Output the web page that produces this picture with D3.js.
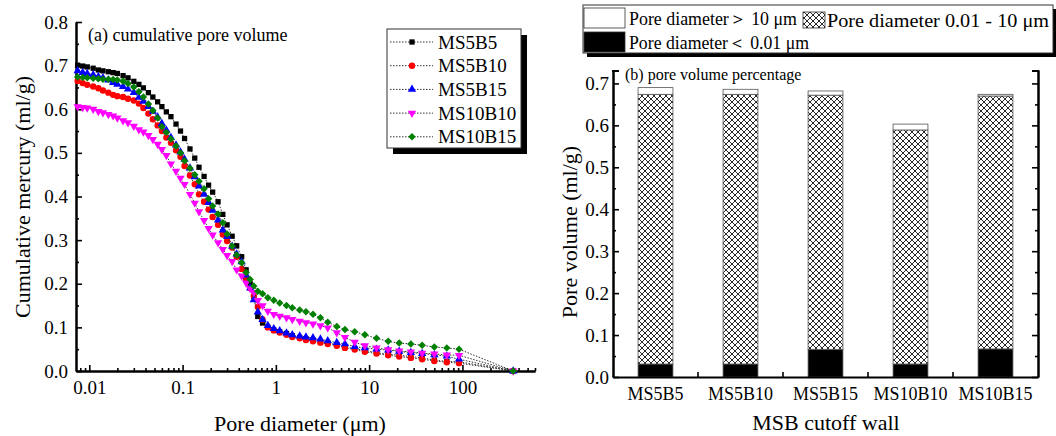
<!DOCTYPE html>
<html>
<head>
<meta charset="utf-8">
<script src="https://cdn.jsdelivr.net/npm/d3@7"></script>
<style>
body{margin:0;background:#fff}
svg text{font-family:"Liberation Serif","Times New Roman",serif;fill:#000}
.ax .domain{stroke:#000;stroke-width:2}
.ax line{stroke:#000;stroke-width:1.6}
</style>
</head>
<body>
<svg id="chart" width="1056" height="436"></svg>
<script>
// pore diameter (um) for the mercury intrusion points
const diam = [0.0075,0.0085,0.0095,0.011,0.0125,0.014,0.016,0.018,0.02,0.023,0.026,0.03,0.034,0.038,0.043,0.048,
  0.054,0.06,0.067,0.075,0.085,0.095,0.105,0.12,0.135,0.15,0.17,0.19,0.21,0.24,0.27,0.3,0.34,0.38,0.43,0.48,
  0.53,0.58,0.64,0.72,0.82,0.95,1.1,1.3,1.5,1.8,2.1,2.5,3,3.6,4.5,5.5,7,9,12,16,21,28,37,50,68,92,350];

// cumulative mercury (ml/g)
const ms5b5 = [0.701,0.699,0.697,0.694,0.690,0.688,0.686,0.684,0.682,0.677,0.672,0.664,0.657,0.649,0.638,0.628,
  0.617,0.606,0.594,0.583,0.566,0.550,0.533,0.509,0.488,0.467,0.446,0.426,0.410,0.388,0.359,0.335,0.309,0.287,0.262,0.232,
  0.200,0.170,0.125,0.110,0.100,0.094,0.090,0.086,0.081,0.077,0.074,0.071,0.068,0.064,0.060,0.055,0.051,0.047,0.042,0.039,
  0.036,0.033,0.030,0.025,0.022,0.021,0];
const ms5b10 = [0.665,0.660,0.656,0.652,0.648,0.643,0.638,0.633,0.630,0.628,0.624,0.620,0.613,0.603,0.590,0.577,
  0.563,0.550,0.535,0.523,0.506,0.491,0.470,0.448,0.428,0.405,0.388,0.370,0.353,0.335,0.313,0.298,0.283,0.262,0.234,0.210,
  0.190,0.172,0.147,0.118,0.100,0.093,0.088,0.083,0.078,0.075,0.071,0.068,0.065,0.062,0.058,0.053,0.049,0.044,0.040,0.036,
  0.033,0.030,0.027,0.023,0.020,0.018,0];
const ms5b15 = [0.688,0.684,0.682,0.679,0.675,0.672,0.667,0.661,0.657,0.652,0.646,0.638,0.627,0.618,0.606,0.595,
  0.582,0.567,0.552,0.535,0.518,0.502,0.485,0.465,0.445,0.424,0.405,0.386,0.368,0.346,0.323,0.308,0.286,0.268,0.250,0.220,
  0.190,0.163,0.135,0.118,0.104,0.097,0.092,0.087,0.083,0.080,0.078,0.076,0.073,0.069,0.065,0.062,0.056,0.053,0.050,0.048,
  0.045,0.042,0.040,0.037,0.034,0.027,0];
const ms10b10 = [0.606,0.604,0.603,0.600,0.595,0.592,0.588,0.585,0.580,0.574,0.569,0.561,0.553,0.548,0.540,0.531,
  0.520,0.508,0.494,0.475,0.458,0.442,0.428,0.405,0.385,0.365,0.345,0.327,0.312,0.294,0.279,0.265,0.251,0.232,0.218,0.202,
  0.189,0.180,0.162,0.150,0.137,0.130,0.126,0.122,0.118,0.114,0.111,0.108,0.104,0.099,0.088,0.077,0.066,0.058,0.053,0.049,
  0.046,0.044,0.041,0.039,0.037,0.036,0];
const ms10b15 = [0.674,0.673,0.672,0.671,0.670,0.669,0.669,0.668,0.667,0.664,0.659,0.651,0.640,0.628,0.612,0.597,
  0.580,0.560,0.547,0.532,0.516,0.500,0.482,0.465,0.450,0.435,0.418,0.395,0.378,0.360,0.340,0.314,0.286,0.266,0.248,0.226,
  0.210,0.195,0.183,0.177,0.168,0.162,0.156,0.150,0.145,0.140,0.136,0.130,0.122,0.112,0.102,0.095,0.090,0.083,0.075,0.068,
  0.064,0.062,0.059,0.055,0.053,0.050,0];

const seriesNames = ["MS5B5","MS5B10","MS5B15","MS10B10","MS10B15"];
const seriesValues = [ms5b5, ms5b10, ms5b15, ms10b10, ms10b15];
const seriesColors = ["#000000","#ff0000","#0000ff","#ff00ff","#008000"];

const xTicks = [0.01,0.1,1,10,100];
const yTicksA = [0,0.1,0.2,0.3,0.4,0.5,0.6,0.7,0.8];

// pore volume bars (ml/g)
const walls = ["MS5B5","MS5B10","MS5B15","MS10B10","MS10B15"];
const poreSmall = [0.031,0.031,0.066,0.031,0.067];   // < 0.01 um
const poreMid   = [0.643,0.643,0.606,0.558,0.603];   // 0.01 - 10 um
const poreLarge = [0.016,0.012,0.010,0.014,0.004];   // > 10 um
const yTicksB = [0,0.1,0.2,0.3,0.4,0.5,0.6,0.7];

const FONT = '"Liberation Serif","Times New Roman",serif';
const svg = d3.select("#chart");

// hatch pattern
const defs = svg.append("defs");
const pat = defs.append("pattern").attr("id","hatch").attr("patternUnits","userSpaceOnUse")
  .attr("width",6).attr("height",6);
pat.append("rect").attr("width",6).attr("height",6).attr("fill","#fff");
pat.append("path").attr("d","M0,0L6,6M6,0L0,6M-1,5L1,7M5,-1L7,1M-1,1L1,-1M5,7L7,5")
  .attr("stroke","#111").attr("stroke-width",0.9);

// ---------- (a) cumulative curves ----------
const x = d3.scaleLog().domain([0.0072, 600]).range([76, 535]);
const y = d3.scaleLinear().domain([0, 0.8]).range([371, 22]);
const A = svg.append("g");

const yMinorA = d3.range(0.05, 0.8, 0.1);
A.append("g").attr("class","ax").attr("transform","translate(76,0)")
  .call(d3.axisLeft(y).tickValues(yMinorA).tickSize(-3).tickSizeOuter(0).tickFormat(""));
A.append("g").attr("class","ax").attr("transform","translate(76,0)")
  .call(d3.axisLeft(y).tickValues(yTicksA).tickSize(-6).tickSizeOuter(0).tickPadding(8).tickFormat(d3.format(".1f")))
  .selectAll("text").style("font-size","19px");

const xMinor = x.ticks().filter(t => xTicks.indexOf(t) < 0);
A.append("g").attr("class","ax").attr("transform","translate(0,371)")
  .call(d3.axisBottom(x).tickValues(xMinor).tickSize(-3).tickSizeOuter(0).tickFormat(""));
A.append("g").attr("class","ax").attr("transform","translate(0,371)")
  .call(d3.axisBottom(x).tickValues(xTicks).tickSize(-6).tickSizeOuter(0).tickPadding(10).tickFormat(d => String(d)))
  .selectAll("text").style("font-size","19px");

A.append("text").attr("transform","translate(30,197) rotate(-90)").attr("text-anchor","middle")
  .style("font-size","22px").text("Cumulative mercury (ml/g)");
A.append("text").attr("x",300).attr("y",431).attr("text-anchor","middle")
  .style("font-size","22px").text("Pore diameter (\u03bcm)");
A.append("text").attr("x",88).attr("y",41).style("font-size","18px").text("(a) cumulative pore volume");

const symbols = [
  d3.symbol().type(d3.symbolSquare).size(28),
  d3.symbol().type(d3.symbolCircle).size(32),
  d3.symbol().type(d3.symbolTriangle).size(30),
  d3.symbol().type(d3.symbolTriangle).size(30),
  d3.symbol().type(d3.symbolSquare).size(28)
];
const rot = [0,0,0,180,45];

const line = d3.line().x(p => x(p[0])).y(p => y(p[1]));
seriesValues.forEach((vals, i) => {
  const pts = diam.map((d, k) => [d, vals[k]]);
  A.append("path").datum(pts).attr("d", line).attr("fill","none")
    .attr("stroke","#333").attr("stroke-width",1).attr("stroke-dasharray","1.5,1.5");
  A.append("g").selectAll("path").data(pts).join("path")
    .attr("d", symbols[i])
    .attr("transform", p => `translate(${x(p[0])},${y(p[1])}) rotate(${rot[i]})`)
    .attr("fill", seriesColors[i]);
});

// legend (a)
const lg = A.append("g");
lg.append("rect").attr("x",393).attr("y",35).attr("width",134).attr("height",119).attr("fill","#000");
lg.append("rect").attr("x",387).attr("y",29).attr("width",134).attr("height",119)
  .attr("fill","#fff").attr("stroke","#333").attr("stroke-width",1);
seriesNames.forEach((n, i) => {
  const cy = 42 + i * 23.7;
  lg.append("line").attr("x1",390).attr("x2",433).attr("y1",cy).attr("y2",cy)
    .attr("stroke","#333").attr("stroke-width",1).attr("stroke-dasharray","1.5,1.5");
  lg.append("path").attr("d", symbols[i]).attr("transform",`translate(412,${cy}) rotate(${rot[i]})`)
    .attr("fill", seriesColors[i]);
  lg.append("text").attr("x",438).attr("y",cy).attr("dy","0.35em").style("font-size","19px").text(n);
});

// ---------- (b) stacked bars ----------
const xb = d3.scaleBand().domain(walls).range([613, 1038]).paddingInner(0.59).paddingOuter(0.295);
const yb = d3.scaleLinear().domain([0, 0.732]).range([377, 70]);
const B = svg.append("g");

const stackData = walls.map((w, i) => ({wall: w, small: poreSmall[i], mid: poreMid[i], large: poreLarge[i]}));
const stack = d3.stack().keys(["small","mid","large"])(stackData);
const fills = {small: "#000", mid: "url(#hatch)", large: "#fff"};
stack.forEach(layer => {
  B.append("g").selectAll("rect").data(layer).join("rect")
    .attr("x", d => xb(d.data.wall)).attr("width", xb.bandwidth())
    .attr("y", d => yb(d[1])).attr("height", d => yb(d[0]) - yb(d[1]))
    .attr("fill", fills[layer.key]).attr("stroke","#555").attr("stroke-width",0.8);
});

const yMinorB = d3.range(0.05, 0.73, 0.1);
B.append("g").attr("class","ax").attr("transform","translate(613,0)")
  .call(d3.axisLeft(yb).tickValues(yMinorB).tickSize(-3).tickSizeOuter(0).tickFormat(""));
B.append("g").attr("class","ax").attr("transform","translate(613,0)")
  .call(d3.axisLeft(yb).tickValues(yTicksB).tickSize(-6).tickSizeOuter(0).tickPadding(4).tickFormat(d3.format(".1f")))
  .selectAll("text").style("font-size","19px");
B.append("g").attr("class","ax").attr("transform","translate(1038,0)")
  .call(d3.axisRight(yb).tickValues(yMinorB).tickSize(-3).tickSizeOuter(0).tickFormat(""));
B.append("g").attr("class","ax").attr("transform","translate(1038,0)")
  .call(d3.axisRight(yb).tickValues(yTicksB).tickSize(-6).tickSizeOuter(0).tickFormat(""));
// short caps at the top of both side axes
B.append("line").attr("x1",612).attr("x2",619).attr("y1",71).attr("y2",71).attr("stroke","#000").attr("stroke-width",2);
B.append("line").attr("x1",1032).attr("x2",1039).attr("y1",71).attr("y2",71).attr("stroke","#000").attr("stroke-width",2);

const gapTicks = walls.slice(1).map(w => xb(w) - xb.step() * xb.paddingInner() / 2);
B.append("g").attr("class","ax").attr("transform","translate(0,377)")
  .call(d3.axisBottom(xb).tickSize(0).tickSizeOuter(0).tickPadding(10))
  .selectAll("text").style("font-size","18px");
B.append("g").selectAll("line").data(gapTicks).join("line")
  .attr("x1", d => d).attr("x2", d => d).attr("y1",377).attr("y2",372)
  .attr("stroke","#000").attr("stroke-width",1.6);

B.append("text").attr("transform","translate(577,232) rotate(-90)").attr("text-anchor","middle")
  .style("font-size","22px").text("Pore volume (ml/g)");
B.append("text").attr("x",826).attr("y",430).attr("text-anchor","middle")
  .style("font-size","22px").text("MSB cutoff wall");
B.append("text").attr("x",625).attr("y",80).style("font-size","16px").text("(b) pore volume percentage");

// legend (b)
const lb = B.append("g");
lb.append("rect").attr("x",587).attr("y",9).attr("width",470).attr("height",48).attr("fill","#000");
lb.append("rect").attr("x",583).attr("y",5).attr("width",470).attr("height",48)
  .attr("fill","#fff").attr("stroke","#333").attr("stroke-width",1);
const legB = [
  {label: "Pore diameter\uff1e 10 \u03bcm", fill: "#fff", x: 584, y: 8, w: 41, h: 20, tx: 629, len: 168},
  {label: "Pore diameter 0.01 - 10 \u03bcm", fill: "url(#hatch)", x: 803, y: 12, w: 22, h: 16, tx: 827, len: 222},
  {label: "Pore diameter\uff1c 0.01 \u03bcm", fill: "#000", x: 584, y: 32, w: 41, h: 20, tx: 629, len: 180}
];
legB.forEach(e => {
  lb.append("rect").attr("x",e.x).attr("y",e.y).attr("width",e.w).attr("height",e.h)
    .attr("fill",e.fill).attr("stroke","#333").attr("stroke-width",0.8);
  lb.append("text").attr("x",e.tx).attr("y",e.y + e.h / 2).attr("dy","0.35em")
    .attr("textLength", e.len).attr("lengthAdjust","spacingAndGlyphs")
    .style("font-size","19px").text(e.label);
});

// serif everywhere, including the axis groups
svg.selectAll(".ax").attr("font-family", null);
svg.selectAll("text").style("font-family", FONT);
</script>
</body>
</html>
